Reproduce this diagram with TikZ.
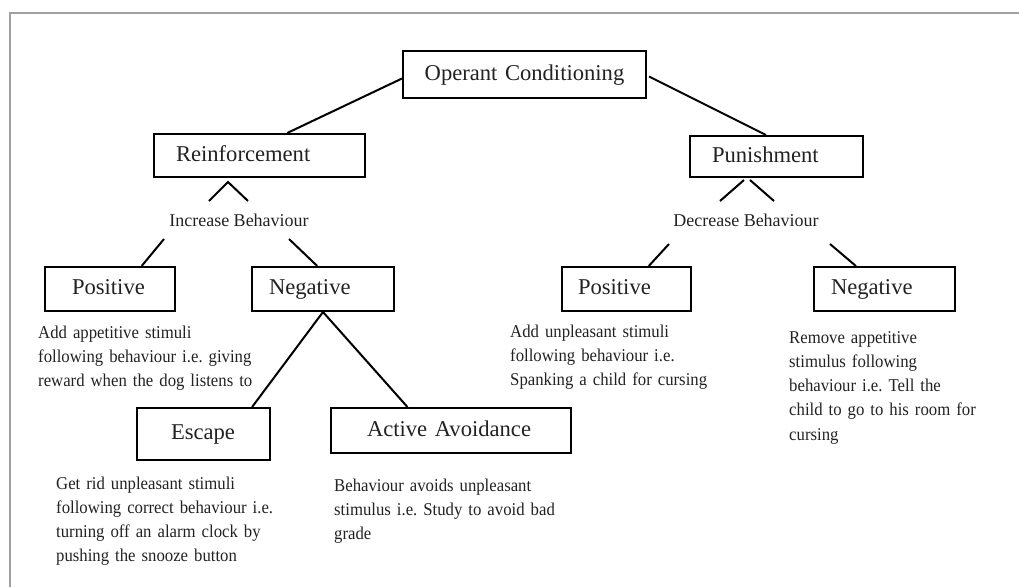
\documentclass[tikz,border=0pt]{standalone}
\usepackage{fontspec}
\setmainfont{Liberation Serif}
\newfontfamily\descfont[FakeStretch=0.93]{Liberation Serif}
\usetikzlibrary{calc}
\definecolor{ink}{HTML}{222222}
\definecolor{frame}{HTML}{A0A0A0}
\frenchspacing
\begin{document}
\begin{tikzpicture}[x=1pt,y=-1pt,
  box/.style={draw=black, line width=2pt, anchor=north west, align=left,
    inner ysep=0pt, text height=16pt, text depth=5pt, text=ink,
    font=\fontsize{22.6}{26}\selectfont},
  lbl/.style={inner sep=0pt, anchor=base, text=ink, font=\fontsize{18}{22}\selectfont},
  desc/.style={inner sep=0pt, anchor=base west, align=left, text width=320pt,
    text=ink, font=\descfont\fontsize{18}{24.3}\selectfont},
  link/.style={line width=2pt, black}]
\useasboundingbox (0,0) rectangle (1019,587);
% page frame
\draw[frame, line width=1.5pt] (10,587) -- (10,13) -- (1019,13);

% boxes
\node[box, inner xsep=6pt, text width=231pt, minimum height=47pt, align=center] (oc) at (402,50) {Operant Conditioning};
\node[box, inner xsep=22pt, text width=167pt, minimum height=43pt] (rein) at (153,133) {Reinforcement};
\node[box, inner xsep=22pt, text width=129pt, minimum height=41pt] (pun) at (689,135) {Punishment};
\node[box, inner xsep=27pt, text width=76pt, minimum height=44pt] (posL) at (44,266) {Positive};
\node[box, inner xsep=17pt, text width=108pt, minimum height=44pt] (negL) at (251,266) {Negative};
\node[box, inner xsep=16pt, text width=97pt, minimum height=44pt] (posR) at (561,266) {Positive};
\node[box, inner xsep=17pt, text width=107pt, minimum height=44pt] (negR) at (813,266) {Negative};
\node[box, inner xsep=34pt, text width=65pt, minimum height=52pt] (esc) at (136,407) {Escape};
\node[box, inner xsep=36pt, text width=168pt, minimum height=45pt] (act) at (330,407) {Active Avoidance};

% middle labels
\node[lbl] (inc) at (239,226) {Increase Behaviour};
\node[lbl] (dec) at (746,226) {Decrease Behaviour};

% descriptions
\node[desc] (dposL) at (38,338) {Add appetitive stimuli\\following behaviour i.e. giving\\reward when the dog listens to};
\node[desc] (desc) at (56,489) {Get rid unpleasant stimuli\\following correct behaviour i.e.\\turning off an alarm clock by\\pushing the snooze button};
\node[desc] (dact) at (334,491) {Behaviour avoids unpleasant\\stimulus i.e. Study to avoid bad\\grade};
\node[desc] (dposR) at (510,337) {Add unpleasant stimuli\\following behaviour i.e.\\Spanking a child for cursing};
\node[desc] (dnegR) at (789,343) {Remove appetitive\\stimulus following\\behaviour i.e. Tell the\\child to go to his room for\\cursing};

% connectors
\draw[link] ($(oc.west)+(0,4)$) -- ($(rein.north west)!0.63!(rein.north east)$);
\draw[link] ($(oc.east)+(2,2)$) -- ($(pun.north west)!0.44!(pun.north east)$);

\draw[link] ($(rein.south)+(-50.5,23)$) -- ($(rein.south)+(-31.5,4)$) -- ($(rein.south)+(-11.5,23)$);
\draw[link] ($(pun.south)+(-32.5,2)$) -- ($(pun.south)+(-56.5,23)$);
\draw[link] ($(pun.south)+(-26.5,2)$) -- ($(pun.south)+(-2.5,23)$);

\draw[link] ($(inc.base)+(-75,13)$) -- ($(posL.north west)!0.74!(posL.north east)$);
\draw[link] ($(inc.base)+(50,13)$) -- ($(negL.north west)!0.46!(negL.north east)$);
\draw[link] ($(dec.base)+(-77,18)$) -- ($(posR.north west)!0.67!(posR.north east)$);
\draw[link] ($(dec.base)+(84,18)$) -- ($(negR.north west)!0.30!(negR.north east)$);

\draw[link] (negL.south) -- ($(esc.north west)!0.86!(esc.north east)$);
\draw[link] (negL.south) -- ($(act.north west)!0.32!(act.north east)$);
\end{tikzpicture}
\end{document}
